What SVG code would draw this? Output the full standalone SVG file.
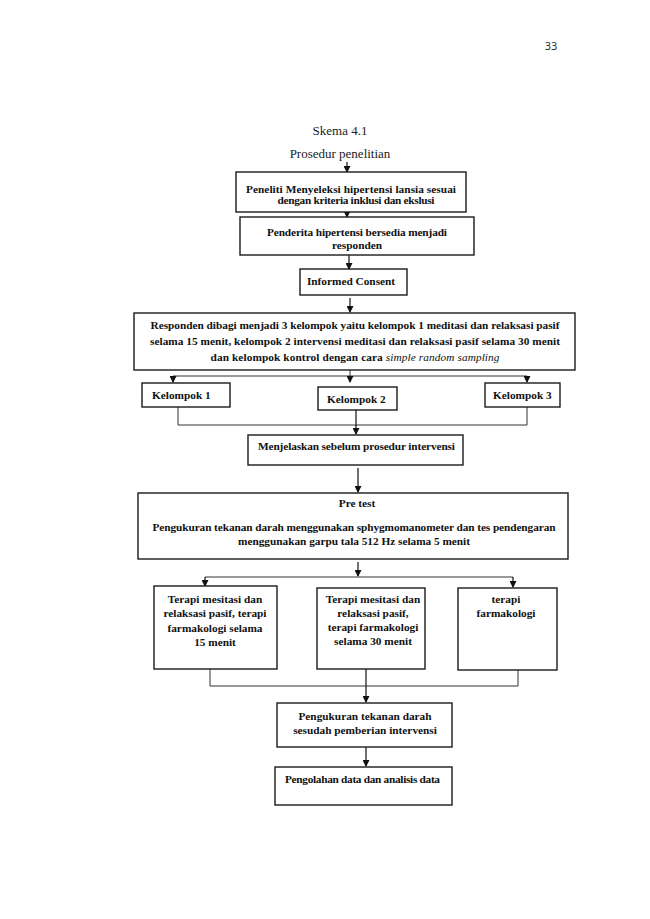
<svg xmlns="http://www.w3.org/2000/svg" width="650" height="919" viewBox="0 0 650 919">
<defs>
<marker id="ah" markerUnits="userSpaceOnUse" markerWidth="7" markerHeight="7" refX="6" refY="3.5" orient="auto">
<path d="M0,0 L7,3.5 L0,7 z" fill="#111"/>
</marker>
<style>
.box{fill:#fff;stroke:#1a1a1a;stroke-width:1.4}
.t{font-family:"Liberation Serif","Times New Roman",serif;font-weight:bold;font-size:11.3px;fill:#111}
.tc{text-anchor:middle}
.title{font-family:"Liberation Serif","Times New Roman",serif;font-size:13px;fill:#222;text-anchor:middle}
.ln{fill:none;stroke:#333;stroke-width:1}
.ar{fill:none;stroke:#111;stroke-width:1.2;marker-end:url(#ah)}
</style>
</defs>
<rect width="650" height="919" fill="#fff"/>
<text x="551" y="50" font-family="'Open Sans','Liberation Sans',sans-serif" font-size="11" fill="#222" text-anchor="middle">33</text>
<text class="title" x="340" y="135">Skema 4.1</text>
<text class="title" x="340" y="158">Prosedur penelitian</text>

<g id="connectors">
<line class="ar" x1="347" y1="162" x2="347" y2="172"/>
<line class="ar" x1="347" y1="211" x2="347" y2="217"/>
<line class="ar" x1="349" y1="255" x2="349" y2="269"/>
<line class="ar" x1="350" y1="298" x2="350" y2="312"/>
<line class="ln" x1="350" y1="366" x2="350" y2="376"/>
<line class="ln" x1="173" y1="376" x2="527" y2="376"/>
<line class="ar" x1="173" y1="376" x2="173" y2="382"/>
<line class="ar" x1="350" y1="376" x2="350" y2="382"/>
<line class="ar" x1="527" y1="376" x2="527" y2="382"/>
<polyline class="ln" points="178,407 178,425 527,425 527,407"/>
<line class="ar" x1="356" y1="410" x2="356" y2="434"/>
<line class="ar" x1="358" y1="468" x2="358" y2="492"/>
<line class="ar" x1="358" y1="562" x2="358" y2="576"/>
<line class="ln" x1="205" y1="577" x2="513" y2="577"/>
<line class="ar" x1="205" y1="577" x2="205" y2="586"/>
<line class="ar" x1="513" y1="577" x2="513" y2="587"/>
<polyline class="ln" points="210,669 210,686 518,686 518,670"/>
<line class="ar" x1="366" y1="669" x2="366" y2="702"/>
<line class="ar" x1="366" y1="747" x2="366" y2="766"/>
</g>

<g id="n1">
<rect class="box" x="236" y="172" width="230" height="40"/>
<text class="t tc" x="351" y="193" textLength="210">Peneliti Menyeleksi hipertensi lansia sesuai</text>
<text class="t tc" x="356" y="204" textLength="157">dengan kriteria inklusi dan ekslusi</text>
</g>
<g id="n2">
<rect class="box" x="240" y="217" width="234" height="38"/>
<text class="t tc" x="357" y="236" textLength="180">Penderita hipertensi bersedia menjadi</text>
<text class="t tc" x="357" y="249">responden</text>
</g>
<g id="n3">
<rect class="box" x="300" y="269" width="107" height="26"/>
<text class="t tc" x="351" y="285">Informed Consent</text>
</g>
<g id="n4">
<rect class="box" x="134" y="313" width="441" height="57"/>
<text class="t tc" x="355" y="329" textLength="409">Responden dibagi menjadi 3 kelompok yaitu kelompok 1  meditasi dan relaksasi pasif</text>
<text class="t tc" x="355" y="345" textLength="410">selama 15 menit, kelompok 2 intervensi meditasi dan relaksasi pasif selama 30 menit</text>
<text class="t tc" x="355" y="361" textLength="289">dan kelompok kontrol dengan cara <tspan font-style="italic" font-weight="normal">simple random sampling</tspan></text>
</g>
<g id="k1">
<rect class="box" x="142" y="383" width="88" height="24"/>
<text class="t" x="152" y="399">Kelompok 1</text>
</g>
<g id="k2">
<rect class="box" x="318" y="387" width="79" height="23"/>
<text class="t" x="327" y="403">Kelompok 2</text>
</g>
<g id="k3">
<rect class="box" x="485" y="383" width="75" height="24"/>
<text class="t" x="493" y="399">Kelompok 3</text>
</g>
<g id="n5">
<rect class="box" x="248" y="435" width="215" height="30"/>
<text class="t" x="258" y="450" textLength="197">Menjelaskan sebelum prosedur intervensi</text>
</g>
<g id="n6">
<rect class="box" x="138" y="493" width="430" height="66"/>
<text class="t tc" x="357" y="507">Pre test</text>
<text class="t tc" x="354" y="531" textLength="403">Pengukuran tekanan darah menggunakan sphygmomanometer  dan tes pendengaran</text>
<text class="t tc" x="354" y="545" textLength="232">menggunakan garpu tala 512 Hz selama 5 menit</text>
</g>
<g id="t1">
<rect class="box" x="154" y="586" width="123" height="83"/>
<text class="t tc" x="215" y="603">Terapi mesitasi dan</text>
<text class="t tc" x="215" y="617">relaksasi pasif, terapi</text>
<text class="t tc" x="215" y="632">farmakologi selama</text>
<text class="t tc" x="215" y="646">15 menit</text>
</g>
<g id="t2">
<rect class="box" x="317" y="588" width="108" height="81"/>
<text class="t tc" x="373" y="603">Terapi mesitasi dan</text>
<text class="t tc" x="373" y="617">relaksasi pasif,</text>
<text class="t tc" x="373" y="631">terapi farmakologi</text>
<text class="t tc" x="373" y="645">selama 30 menit</text>
</g>
<g id="t3">
<rect class="box" x="458" y="588" width="99" height="82"/>
<text class="t tc" x="506" y="603">terapi</text>
<text class="t tc" x="506" y="617">farmakologi</text>
</g>
<g id="n7">
<rect class="box" x="277" y="703" width="175" height="44"/>
<text class="t tc" x="365" y="720">Pengukuran tekanan darah</text>
<text class="t tc" x="365" y="734">sesudah pemberian intervensi</text>
</g>
<g id="n8">
<rect class="box" x="275" y="767" width="177" height="38"/>
<text class="t" x="285" y="783" textLength="155">Pengolahan data dan analisis data</text>
</g>
</svg>
